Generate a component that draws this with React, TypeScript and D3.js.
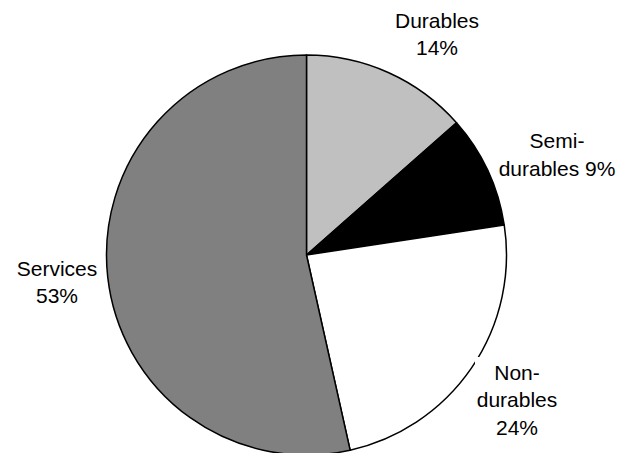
import React from "react";
import * as d3 from "d3";

const categories = ["Durables", "Semi-durables", "Non-durables", "Services"];
const shares = [13.5, 9.1, 23.9, 53.5];
const labelLines = [
  ["Durables", "14%"],
  ["Semi-", "durables 9%"],
  ["Non-", "durables", "24%"],
  ["Services", "53%"],
];
const fills = ["#c0c0c0", "#000000", "#ffffff", "#808080"];
const labelPos = [
  { x: 437, y: 28 },
  { x: 557, y: 148.3 },
  { x: 517, y: 380 },
  { x: 57, y: 276 },
];

const W = 620;
const H = 453;
const cx = 306.5;
const cy = 255;
const R = 200;
const lineH = 27.3;

export default function App() {
  const pie = d3.pie<number>().sort(null).value((d) => d)(shares);
  const arc = d3.arc<d3.PieArcDatum<number>>().innerRadius(0).outerRadius(R);
  return (
    <svg
      width={W}
      height={H}
      style={{ position: "absolute", left: 0, top: 0, background: "#fff" }}
      fontFamily="'Liberation Sans', Arial, sans-serif"
    >
      <g transform={`translate(${cx},${cy})`}>
        {pie.map((p, i) => (
          <path
            key={categories[i]}
            d={arc(p) || ""}
            fill={fills[i]}
            stroke="#000"
            strokeWidth={1.5}
            strokeLinejoin="round"
          />
        ))}
      </g>
      {labelLines.map((lines, i) => {
        const pos = labelPos[i];
        return (
          <g key={categories[i]}>
            {i === 2 && (
              <rect
                x={pos.x - 42}
                y={pos.y - 23}
                width={84}
                height={lines.length * lineH + 8}
                fill="#fff"
              />
            )}
            <text
              x={pos.x}
              y={pos.y}
              textAnchor="middle"
              fontSize={21}
              fill="#000"
            >
              {lines.map((l, j) => (
                <tspan key={j} x={pos.x} y={pos.y + j * lineH}>
                  {l}
                </tspan>
              ))}
            </text>
          </g>
        );
      })}
    </svg>
  );
}
